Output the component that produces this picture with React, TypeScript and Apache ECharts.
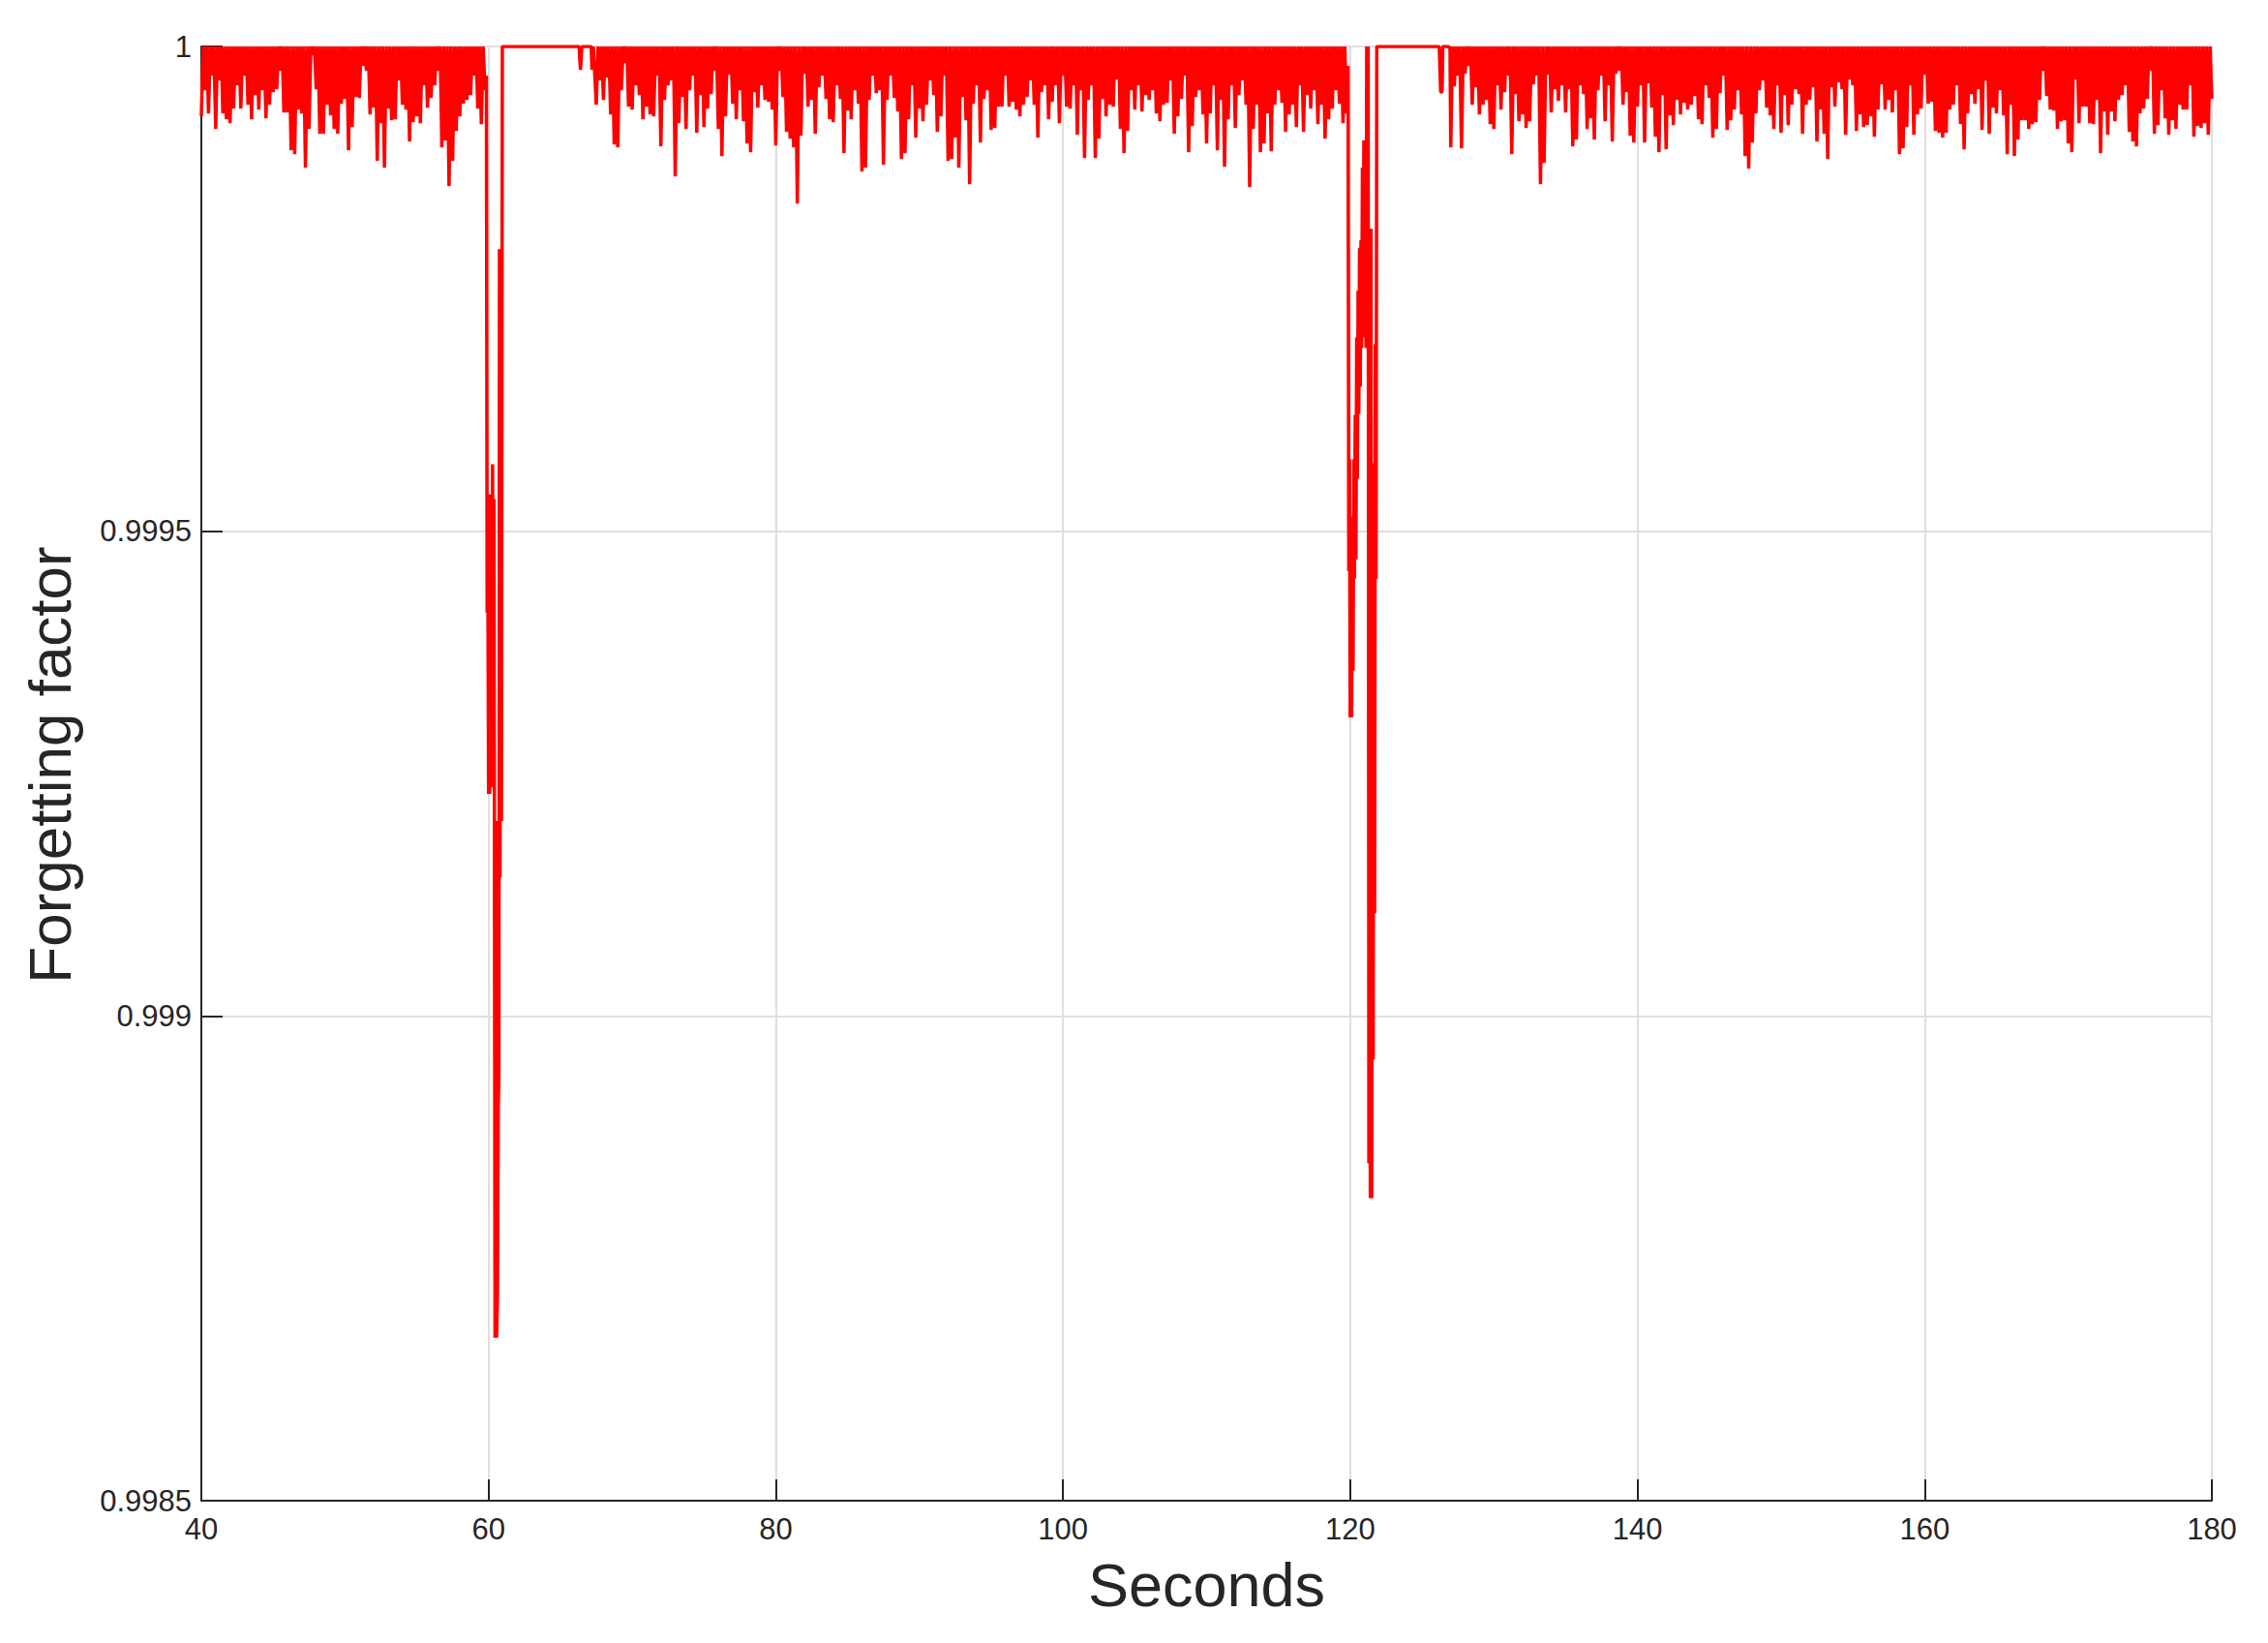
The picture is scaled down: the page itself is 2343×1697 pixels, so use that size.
import React, { useEffect, useRef } from "react";
import * as echarts from "echarts";

// Axis ranges
const X_MIN = 40;
const X_MAX = 180;
const X_STEP = 20;
const Y_MIN = 0.9985;
const Y_MAX = 1;
const Y_STEP = 0.0005;

// Noisy bands: spike depths below 1, in units of 1e-6, one spike every DIP_STEP seconds
const DIP_STEP = 0.25;

const SEG_A_START = 40;
const SEG_A_PPM = [
  72, 45, 69, 30, 85, 35, 69, 75, 79, 64,
  40, 64, 30, 60, 75, 50, 65, 45, 74, 60,
  47, 44, 25, 68, 68, 107, 111, 65, 69, 125,
  85, 9, 44, 90, 90, 60, 71, 85, 90, 59,
  54, 107, 83, 52, 53, 20, 25, 70, 63, 118,
  79, 125, 64, 76, 75, 35, 60, 65, 98, 78,
  72, 79, 40, 63, 53, 40, 25, 104, 97, 144,
  118, 87, 72, 59, 55, 50, 30, 64, 80, 45,
];

// First disturbance (~60 s)
const EVENT1_T = [
  59.85, 59.9, 59.95, 60.0, 60.04, 60.08, 60.12, 60.16, 60.2, 60.24, 60.28, 60.33,
  60.38, 60.45, 60.5, 60.56, 60.62, 60.68, 60.72, 60.76, 60.8, 60.85, 60.9, 60.96,
];
const EVENT1_PPM = [
  30, 584, 540, 771, 620, 771, 462, 675, 540, 764, 431, 620,
  467, 1332, 799, 1332, 1292, 1092, 1061, 209, 857, 310, 799, 0,
];

const QUIET1_T = [61.0, 66.3, 66.4, 66.5, 67.15, 67.2, 67.3];
const QUIET1_PPM = [0, 0, 24, 0, 0, 24, 0];

const SEG_B_START = 67.5;
const SEG_B_PPM = [
  60, 35, 55, 32, 70, 101, 104, 45, 17, 62,
  65, 40, 50, 75, 62, 70, 72, 30, 103, 55,
  40, 35, 134, 79, 52, 85, 45, 30, 89, 50,
  83, 64, 49, 25, 85, 113, 72, 29, 59, 75,
  45,
  77, 100, 109, 47, 63, 40, 55, 57, 65, 102,
  25, 52, 88, 95, 104, 162, 92, 28, 62, 55,
  90, 42, 30, 54, 75, 78, 40, 54, 110, 66,
  75, 45, 59, 129, 125, 55, 30, 48, 45, 122,
  55, 30, 53, 67, 116, 110, 75, 40, 94, 64,
  77, 60, 35, 50, 88, 72, 30, 118, 116, 94,
  125, 52, 76, 142, 59, 40, 99, 54, 45, 86,
  84, 62, 62, 30, 62, 57, 65, 72, 60, 52,
  35, 60, 94, 47, 40, 75, 57, 40, 79, 30,
  62, 64, 40, 91, 45, 115, 55, 40, 115, 95,
  54, 72, 60, 62, 34, 85, 110, 87, 45, 65,
  40, 67, 50, 55, 45, 69, 77, 60, 58, 35,
  90, 72, 54, 30, 109, 82, 52, 45, 70, 100,
  69, 40, 107, 55, 124, 75, 40, 84, 50, 35,
  60, 145, 85, 60, 109, 100, 69, 108, 60, 45,
  58, 88, 70, 60, 83, 40, 88, 50, 64, 45,
  80, 60, 95, 75, 64, 45, 59, 79, 69,
];

// Second disturbance (~120 s)
const EVENT2_T = [
  119.85, 119.9, 119.95, 120.0, 120.05, 120.1, 120.15, 120.2, 120.25, 120.3,
  120.35, 120.4, 120.45, 120.5, 120.55, 120.6, 120.65, 120.7, 120.75, 120.8,
  120.85, 120.9, 120.95, 121.0, 121.05, 121.1, 121.15, 121.2, 121.25, 121.3,
  121.35, 121.4, 121.45, 121.5, 121.55, 121.6, 121.65, 121.7, 121.75, 121.8,
  121.85,
];
const EVENT2_PPM = [
  20, 541, 426, 692, 485, 692, 540, 644, 426, 549,
  380, 529, 300, 446, 252, 379, 208, 351, 200, 311,
  125, 300, 97, 220, 110, 311, 0, 300, 0, 1152,
  190, 1188, 188, 1188, 430, 1045, 430, 894, 307, 549,
  0,
];

const QUIET2_T = [121.9, 126.2, 126.3, 126.4, 126.45, 126.85, 126.9, 126.95];
const QUIET2_PPM = [0, 0, 47, 47, 0, 0, 2, 0];

const SEG_C_START = 127;
const SEG_C_PPM = [
  104, 41, 30, 105, 28, 20, 60, 42, 70, 60,
  55, 80, 85, 40, 65, 47, 30, 111, 49, 77,
  70, 84, 77, 39, 30, 142, 120, 29, 68, 44,
  56, 40, 68, 44, 103, 96, 40, 49, 85, 74,
  96, 45, 30, 77, 40, 98, 28, 25, 60, 47,
  92, 99, 62, 40, 99, 38, 63, 93, 109, 50,
  106, 71, 81, 55, 70, 58, 65, 60, 51, 75,
  80, 40, 53, 94, 85, 48, 30, 86, 76, 65,
  45, 70, 113, 126, 99, 69, 45, 35, 63, 71,
  85, 40, 89, 50, 81, 60, 44, 49,
  90, 60, 55, 42, 98, 65, 90, 116, 42, 62,
  37, 44, 91, 34, 40, 87, 70, 83, 81, 72,
  93, 65, 39, 65, 55, 68, 45, 111, 105, 83,
  40, 91, 70, 64, 29, 59, 57, 87, 89, 94,
  89, 65, 60, 40, 80, 106, 69, 49, 59, 44,
  86, 35, 90, 63, 69, 45, 71, 111, 60, 113,
  96, 76, 76, 85, 80, 78, 55, 25, 51, 65,
  66, 85, 77, 76, 100, 109, 34, 79, 62, 62,
  79, 80, 55, 110, 67, 91, 67, 77, 55, 50,
  40, 88, 98, 103, 69, 64, 54, 25, 90, 81,
  45, 74, 91, 76, 85, 60, 65, 65, 40, 93,
  82, 84, 79, 91, 54,
];

const FONT = "'Liberation Sans', Arial, Helvetica, sans-serif";
const INK = "#262626";

const toValue = (ppm: number) => 1 - ppm * 1e-6;

function band(start: number, ppm: number[]): number[][] {
  const out: number[][] = [];
  ppm.forEach((d, k) => {
    const t = start + k * DIP_STEP;
    out.push([t, toValue(d)]);
    if (k < ppm.length - 1) out.push([t + DIP_STEP / 2, 1]);
  });
  return out;
}

function pairs(ts: number[], ppm: number[]): number[][] {
  return ts.map((t, i) => [t, toValue(ppm[i])]);
}

function buildData(): number[][] {
  return [
    ...band(SEG_A_START, SEG_A_PPM),
    ...pairs(EVENT1_T, EVENT1_PPM),
    ...pairs(QUIET1_T, QUIET1_PPM),
    ...band(SEG_B_START, SEG_B_PPM),
    ...pairs(EVENT2_T, EVENT2_PPM),
    ...pairs(QUIET2_T, QUIET2_PPM),
    ...band(SEG_C_START, SEG_C_PPM),
  ];
}

export default function App() {
  const ref = useRef<HTMLDivElement>(null);

  useEffect(() => {
    if (!ref.current) return;
    const chart = echarts.init(ref.current, undefined, { renderer: "svg" });
    chart.setOption({
      animation: false,
      backgroundColor: "#ffffff",
      grid: { left: 208, right: 58, top: 48, bottom: 147, containLabel: false },
      xAxis: {
        type: "value",
        min: X_MIN,
        max: X_MAX,
        interval: X_STEP,
        name: "Seconds",
        nameLocation: "middle",
        nameGap: 55,
        nameTextStyle: { fontSize: 63, color: INK, fontFamily: FONT },
        axisLine: { show: true, onZero: false, lineStyle: { color: INK, width: 2 } },
        axisTick: { show: true, inside: true, length: 22, lineStyle: { color: INK, width: 2 } },
        axisLabel: { color: INK, fontSize: 31, fontFamily: FONT, margin: 14 },
        splitLine: { show: true, lineStyle: { color: "#dfdfdf", width: 2 } },
      },
      yAxis: {
        type: "value",
        min: Y_MIN,
        max: Y_MAX,
        interval: Y_STEP,
        name: "Forgetting factor",
        nameLocation: "middle",
        nameGap: 126,
        nameTextStyle: { fontSize: 62, color: INK, fontFamily: FONT, padding: [0, 0, 0, 18] },
        axisLine: { show: true, onZero: false, lineStyle: { color: INK, width: 2 } },
        axisTick: { show: true, inside: true, length: 22, lineStyle: { color: INK, width: 2 } },
        axisLabel: {
          color: INK,
          fontSize: 31,
          fontFamily: FONT,
          margin: 10,
          formatter: (v: number) => String(parseFloat(v.toFixed(4))),
        },
        splitLine: { show: true, lineStyle: { color: "#dfdfdf", width: 2 } },
      },
      series: [
        {
          type: "line",
          data: buildData(),
          showSymbol: false,
          symbol: "none",
          lineStyle: { color: "#ff0000", width: 3.5 },
          emphasis: { disabled: true },
        },
      ],
    });
    return () => chart.dispose();
  }, []);

  return (
    <div
      ref={ref}
      style={{ position: "fixed", left: 0, top: 0, width: 2343, height: 1697, background: "#fff" }}
    />
  );
}
